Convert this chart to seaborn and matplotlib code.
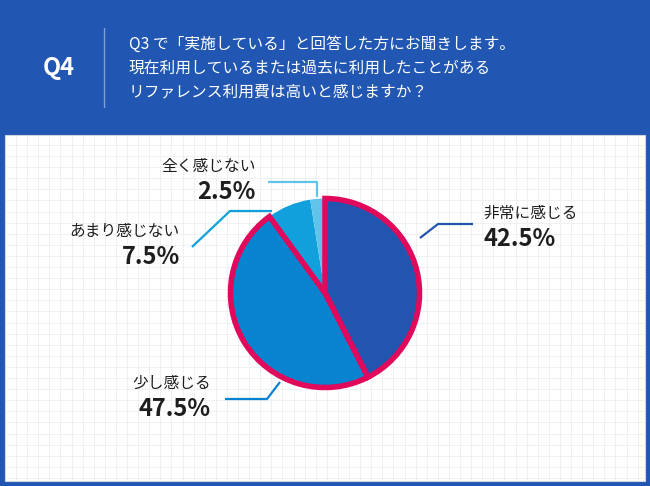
import numpy as np
import matplotlib
matplotlib.use("Agg")
import matplotlib.pyplot as plt
import seaborn as sns

# ---- data ----
categories = ["非常に感じる", "少し感じる", "あまり感じない", "全く感じない"]
values = [42.5, 47.5, 7.5, 2.5]
pct_labels = ["42.5%", "47.5%", "7.5%", "2.5%"]
question_id = "Q4"
question_lines = [
    "Q3 で「実施している」と回答した方にお聞きします。",
    "現在利用しているまたは過去に利用したことがある",
    "リファレンス利用費は高いと感じますか？",
]

sns.set_theme(style="white")
plt.rcParams["font.family"] = ["Noto Sans CJK JP", "DejaVu Sans"]

BG = "#2156b2"
PINK = "#e0095b"
colors = sns.color_palette(["#2155b0", "#0883cf", "#12a0dc", "#5fc3ea"])
TXT = "#1e1e1e"

W, H = 650, 486
fig = plt.figure(figsize=(W / 100, H / 100), dpi=100)
fig.patch.set_facecolor(BG)

ax = fig.add_axes([0, 0, 1, 1])
ax.set_xlim(0, W)
ax.set_ylim(H, 0)
ax.axis("off")

# white panel
px0, py0, px1, py1 = 5, 135, 645, 481
ax.add_patch(plt.Rectangle((px0, py0), px1 - px0, py1 - py0,
                           facecolor="white", edgecolor="#cfd6dc", lw=0.8, zorder=1))
# grid on panel
step = 11.1
gx = np.arange(px0 + 11, px1, step)
gy = np.arange(py0 + 10, py1, step)
ax.vlines(gx, py0 + 1, py1 - 1, colors="#edf1f3", lw=0.7, zorder=2)
ax.hlines(gy, px0 + 1, px1 - 1, colors="#edf1f3", lw=0.7, zorder=2)

# header
ax.text(59, 68, question_id, color="white", fontsize=17, fontweight="bold",
        ha="center", va="center", zorder=5)
ax.plot([104, 104], [28, 107], color="#7f9fd6", lw=1.0, zorder=5)
for i, line in enumerate(question_lines):
    ax.text(129, 44 + i * 24, line, color="white", fontsize=11.3,
            ha="left", va="center", zorder=5)

# pie
cx, cy, half = 325, 293, 125
pax = fig.add_axes([(cx - half) / W, (H - cy - half) / H, 2 * half / W, 2 * half / H])
pax.set_facecolor("none")
wedges, _ = pax.pie(values, colors=colors, startangle=90, counterclock=False,
                    radius=0.945, wedgeprops=dict(linewidth=0))
for i in (0, 1):
    wedges[i].set_edgecolor(PINK)
    wedges[i].set_linewidth(4)
    wedges[i].set_zorder(3)
pax.set_xlim(-1.25, 1.25)
pax.set_ylim(-1.25, 1.25)
pax.set_aspect("equal")
pax.axis("off")

# labels layout (x, label y, pct y, ha)
layout = [
    (483, 213, 239, "left"),
    (211, 383, 409, "right"),
    (180, 231, 257, "right"),
    (256, 166, 192, "right"),
]
leaders = [
    [(420, 238), (438, 224), (473, 224)],
    [(280, 382), (267, 399), (225, 399)],
    [(192, 247), (230, 211), (272, 211)],
    [(268, 182), (317, 182), (317, 197)],
]
for (x, ly, py, ha), cat, pct, col, pts in zip(layout, categories, pct_labels, colors, leaders):
    ax.text(x, ly, cat, color=TXT, fontsize=11.3, ha=ha, va="center", zorder=5)
    ax.text(x, py, pct, color=TXT, fontsize=17, fontweight="bold", ha=ha,
            va="center", zorder=5)
    xs, ys = zip(*pts)
    ax.plot(xs, ys, color=col, lw=1.6, zorder=4, solid_capstyle="butt")

fig.savefig("out.png", dpi=100, facecolor=BG)
